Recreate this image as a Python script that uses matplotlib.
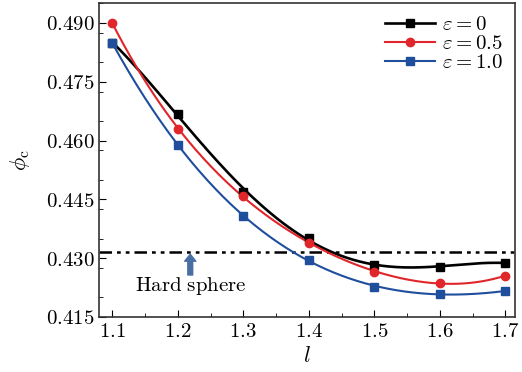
import numpy as np
import matplotlib
matplotlib.use('Agg')
import matplotlib.pyplot as plt
from matplotlib.ticker import MultipleLocator

plt.rcParams['mathtext.fontset'] = 'cm'
plt.rcParams['font.family'] = 'serif'
plt.rcParams['font.serif'] = ['DejaVu Serif']

# data
l_vals = [1.1, 1.2, 1.3, 1.4, 1.5, 1.6, 1.7]
phi_eps0 = [0.485, 0.4668, 0.447, 0.4351, 0.4283, 0.4278, 0.4288]
phi_eps05 = [0.490, 0.4630, 0.4459, 0.4339, 0.4265, 0.4237, 0.4255]
phi_eps10 = [0.4849, 0.4589, 0.4408, 0.4295, 0.4227, 0.4209, 0.4216]
hard_sphere = 0.4316

series = [
    (phi_eps0, 'black', 's', r'$\varepsilon = 0$', 1.9),
    (phi_eps05, '#e0262a', 'o', r'$\varepsilon = 0.5$', 1.5),
    (phi_eps10, '#1f4e9c', 's', r'$\varepsilon = 1.0$', 1.5),
]

fig = plt.figure(figsize=(5.22, 3.72), dpi=100)
ax = fig.add_axes([0.190, 0.148, 0.797, 0.844])

x = np.array(l_vals)
xs = np.linspace(1.1, 1.7, 200)
for y, c, m, lab, lw in series:
    # smooth fitted curve through the points
    p = np.polyfit(x, y, 4)
    ax.plot(xs, np.polyval(p, xs), color=c, lw=lw, zorder=2)
    ax.plot(x, y, ls='none', marker=m, color=c, ms=6, zorder=3)
    ax.plot([], [], color=c, lw=lw, marker=m, ms=6, label=lab)

ax.axhline(hard_sphere, color='black', lw=1.8, dashes=(5, 2, 1.5, 2, 1.5, 2), zorder=1)
ax.annotate('', xy=(1.219, hard_sphere - 0.0006), xytext=(1.219, 0.4257),
            arrowprops=dict(facecolor='#4a6fa5', edgecolor='#4a6fa5',
                            width=3.5, headwidth=8, headlength=5))
ax.text(1.219, 0.4228, r'$\mathrm{Hard\ sphere}$', ha='center', va='center', fontsize=15)

ax.set_xlim(1.08, 1.715)
ax.set_ylim(0.415, 0.4951)
ax.xaxis.set_minor_locator(MultipleLocator(0.05))
ax.yaxis.set_minor_locator(MultipleLocator(0.0075))
ax.set_xticks(l_vals)
ax.set_xticklabels(['$%.1f$' % v for v in l_vals])
yt = [0.415, 0.430, 0.445, 0.460, 0.475, 0.490]
ax.set_yticks(yt)
ax.set_yticklabels(['$%.3f$' % v for v in yt])
ax.tick_params(which='both', direction='in', labelsize=15, top=False, right=False)
ax.tick_params(which='major', length=5)
ax.tick_params(which='minor', length=3)
for s in ax.spines.values():
    s.set_linewidth(1.2)
    s.set_color('#333333')

ax.set_xlabel('$l$', fontsize=16, labelpad=3)
ax.set_ylabel(r'$\phi_{\mathrm{c}}$', fontsize=16, labelpad=10)

ax.legend(loc='upper right', frameon=False, fontsize=15, handlelength=2.4,
          handletextpad=0.3, labelspacing=0.0, borderaxespad=0.2)

fig.savefig('out.png', dpi=100)
